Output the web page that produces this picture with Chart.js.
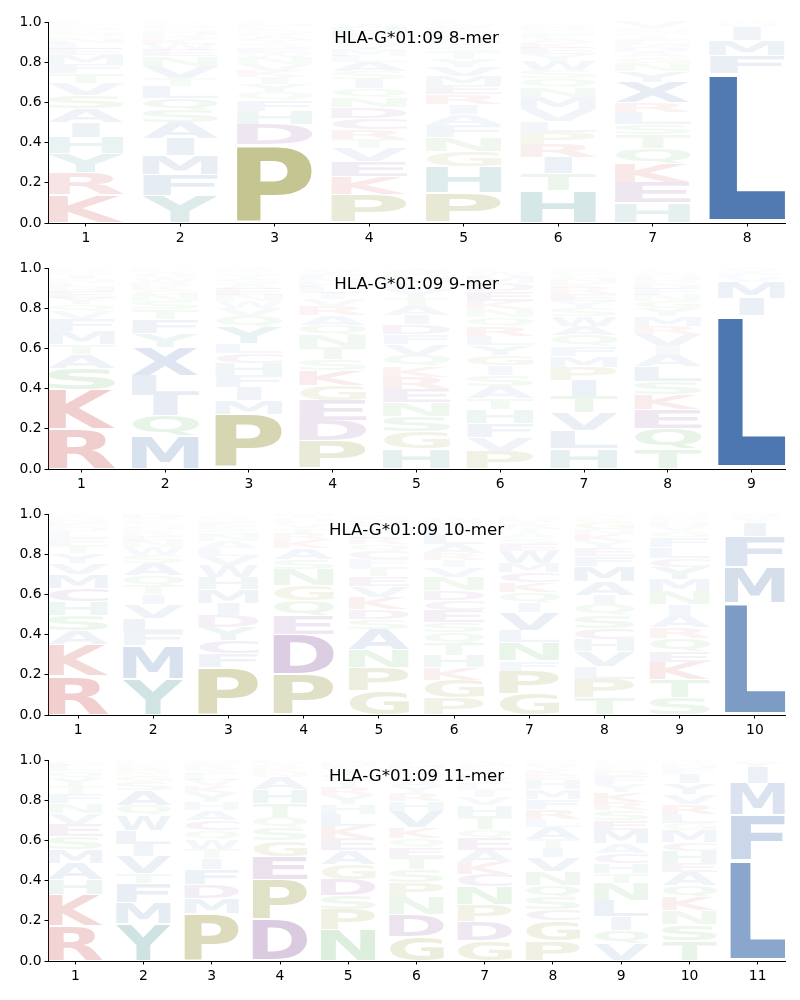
<!DOCTYPE html>
<html>
<head>
<meta charset="utf-8">
<script src="https://cdn.jsdelivr.net/npm/chart.js@4.4.1/dist/chart.umd.min.js"></script>
<style>
  body { margin: 0; background: #fff; }
  #wrap { position: relative; width: 800px; height: 1000px; }
  canvas { position: absolute; left: 0; }
</style>
</head>
<body>
<div id="wrap"></div>
<script>
// Panel titles
const titles = ["HLA-G*01:09 8-mer", "HLA-G*01:09 9-mer", "HLA-G*01:09 10-mer", "HLA-G*01:09 11-mer"];

// Letters per position, stacked bottom -> top, with their heights
const letters8 = [
  "KRYHIASVTFMELNQGDPC", "YFMIASQLTVNEWKRHGDP", "PDHFQYIKVNWESTARGLMC", "PKEVTRCDNQISALMYGFHW",
  "PHGNFAIREMVYTSQLDKWC", "HTIRPLVMNQSWYEKAFGDC", "HEKQTSLRXYNGADMFIPWCV", "LFMIVW"
];
const heights8 = [
  [.14, .11, .095, .08, .075, .07, .065, .06, .05, .045, .045, .03, .03, .025, .02, .02, .015, .015, .01],
  [.135, .105, .095, .085, .08, .06, .06, .06, .04, .06, .05, .03, .03, .025, .02, .02, .015, .015, .015],
  [.39, .1, .065, .055, .04, .04, .035, .03, .035, .03, .025, .025, .02, .02, .02, .015, .015, .015, .015, .01],
  [.14, .09, .075, .065, .045, .05, .055, .055, .05, .045, .045, .04, .045, .03, .03, .025, .025, .03, .03, .02],
  [.15, .13, .075, .07, .06, .055, .05, .05, .045, .045, .045, .04, .035, .03, .03, .025, .02, .02, .015, .01],
  [.16, .085, .08, .065, .06, .055, .06, .06, .05, .045, .04, .045, .035, .03, .025, .025, .02, .02, .015, .015],
  [.1, .1, .095, .075, .07, .05, .06, .05, .1, .055, .04, .03, .025, .025, .02, .02, .015, .015, .01, .015, .03],
  [.745, .09, .075, .065, .015, .01]
];

const letters9 = [
  "RKSATMFVQYEHLNIGDP", "MQILXYFTSNGKRWVAEH", "PMIFHCLYQVWNEASTGKR", "PDEGKSTNQARVILHMFYW",
  "HGSNERKQVFDIATYLMPW", "PVFHTASIGYLRQNKEDMWC", "HLVTIPMFQAWSYERKNGDC", "TQEKSLAIVRMYGNFDPHWC", "LIMVFYW"
];
const heights9 = [
  [.2, .195, .105, .07, .05, .065, .06, .04, .035, .03, .03, .025, .02, .02, .02, .015, .01, .01],
  [.165, .1, .1, .1, .14, .07, .07, .05, .04, .03, .025, .02, .02, .02, .015, .015, .01, .01],
  [.27, .07, .065, .06, .06, .05, .05, .08, .055, .04, .035, .03, .03, .025, .025, .02, .015, .01, .01],
  [.14, .1, .1, .075, .075, .055, .06, .06, .05, .05, .045, .035, .03, .03, .025, .02, .02, .015, .01],
  [.1, .085, .075, .07, .065, .06, .055, .055, .055, .05, .05, .045, .045, .04, .04, .035, .03, .025, .015],
  [.09, .065, .07, .07, .055, .06, .055, .05, .05, .05, .045, .05, .045, .04, .04, .05, .04, .035, .02, .01],
  [.1, .09, .09, .08, .08, .065, .055, .05, .055, .045, .05, .04, .035, .035, .03, .025, .025, .02, .015, .01],
  [.1, .1, .095, .075, .065, .075, .06, .04, .06, .04, .05, .04, .035, .03, .03, .025, .02, .02, .015, .01],
  [.765, .085, .08, .025, .02, .015, .01]
];

const letters10 = [
  "RKASHCMVYTFLQENGI", "YMFLVITQASWNERKHGCPD", "PFCYDIMHWVLANSKEGRT", "PDEQGNSAKRTVLHIM",
  "GPNASDKVETFCQRLIYHMW", "PGKHTQSECDNVIRALMFYW", "GPFNLVIQKCMWESATRYDH", "TPLVHCSQIAMFEYKNGRDW",
  "STKEQRAINMYCLFGVHPDW", "LMFIYVW"
];
const heights10 = [
  [.195, .155, .07, .075, .07, .065, .07, .055, .05, .04, .035, .03, .025, .02, .02, .015, .01],
  [.18, .165, .065, .07, .07, .05, .045, .05, .06, .04, .04, .03, .025, .02, .015, .015, .01, .015, .015, .02],
  [.235, .07, .065, .065, .06, .06, .07, .06, .06, .045, .04, .035, .03, .025, .02, .02, .015, .01, .01],
  [.205, .195, .095, .075, .075, .08, .05, .055, .04, .03, .03, .02, .015, .015, .01, .01],
  [.12, .115, .09, .1, .05, .05, .06, .055, .05, .045, .04, .04, .035, .03, .025, .02, .02, .02, .015, .01],
  [.085, .09, .06, .06, .06, .055, .05, .06, .05, .05, .065, .05, .035, .035, .045, .045, .025, .025, .02, .015],
  [.105, .115, .05, .09, .06, .09, .05, .05, .05, .05, .045, .06, .035, .03, .025, .025, .02, .015, .015, .01],
  [.085, .095, .06, .075, .06, .055, .065, .055, .045, .07, .075, .05, .04, .035, .035, .025, .035, .015, .01, .01],
  [.085, .09, .085, .055, .065, .055, .06, .055, .065, .06, .06, .045, .055, .05, .03, .025, .02, .015, .015, .01],
  [.56, .18, .15, .07, .02, .01, .01]
];

const letters11 = [
  "RKHAMSEVNFTYQLG", "YMFTVILWQASGNRKEH", "PMDFITWQCAHYKVLSREG", "DPEGSQTHANKRVL",
  "NPSDGAEKLHYRTQIFMV", "GDNPSTEQKVHRYAILMFC", "GDPNCKAEQTHVILSRYFMW", "PGCSQNVITALRFMHEKYDW",
  "VQILNTHCAMESRKYFDGPW", "TSNKQAEHCMGLRVYIFDPW", "LFMIYV"
];
const heights11 = [
  [.175, .155, .075, .08, .07, .065, .06, .055, .05, .045, .04, .04, .035, .03, .02],
  [.185, .105, .095, .05, .085, .06, .07, .075, .05, .075, .045, .03, .02, .02, .015, .01, .01],
  [.235, .075, .07, .075, .055, .045, .05, .045, .05, .05, .04, .045, .035, .03, .03, .025, .02, .015, .015],
  [.205, .2, .115, .08, .06, .055, .07, .07, .06, .025, .02, .015, .01, .01],
  [.155, .1, .07, .08, .075, .07, .06, .06, .06, .05, .045, .04, .035, .03, .025, .02, .015, .01],
  [.12, .11, .085, .075, .065, .06, .05, .045, .055, .08, .05, .04, .035, .035, .025, .025, .02, .015, .01],
  [.1, .095, .085, .09, .06, .06, .06, .06, .045, .065, .055, .04, .035, .03, .025, .025, .02, .015, .015, .01],
  [.1, .1, .055, .06, .06, .07, .07, .045, .045, .06, .04, .05, .05, .05, .045, .025, .025, .02, .015, .01],
  [.085, .07, .065, .08, .085, .05, .05, .05, .05, .065, .05, .05, .04, .05, .04, .04, .025, .02, .015, .01],
  [.1, .08, .07, .065, .06, .065, .045, .06, .045, .06, .035, .045, .05, .05, .055, .045, .025, .02, .015, .01],
  [.5, .225, .16, .08, .025, .01]
];

const panels = [
  { title: titles[0], letters: letters8, heights: heights8 },
  { title: titles[1], letters: letters9, heights: heights9 },
  { title: titles[2], letters: letters10, heights: heights10 },
  { title: titles[3], letters: letters11, heights: heights11 }
];

// Base colour of each residue (faded by its height when drawn)
const blue = "76,118,176", red = "200,65,65", olive = "140,140,40",
      purple = "120,60,140", green = "80,170,80", teal = "60,140,140";
const aaColors = {
  A: blue, C: purple, D: purple, E: purple, F: blue, G: olive, H: teal, I: blue,
  K: red, L: blue, M: blue, N: green, P: olive, Q: green, R: red, S: green,
  T: green, V: blue, W: blue, X: blue, Y: teal
};

// Draw each letter stretched into its (invisible) bar
const logoPlugin = {
  id: "logo",
  afterDatasetsDraw(chart) {
    const ctx = chart.ctx;
    ctx.save();
    ctx.font = 'bold 100px "DejaVu Sans"';
    ctx.textAlign = "left";
    ctx.textBaseline = "alphabetic";
    const mE = ctx.measureText("E");
    const wE = mE.actualBoundingBoxLeft + mE.actualBoundingBoxRight;
    chart.data.datasets.forEach((ds, di) => {
      const meta = chart.getDatasetMeta(di);
      const ch = ds.label;
      const m = ctx.measureText(ch);
      const gw = m.actualBoundingBoxLeft + m.actualBoundingBoxRight;
      const gh = m.actualBoundingBoxAscent + m.actualBoundingBoxDescent;
      meta.data.forEach((bar, i) => {
        const raw = ds.data[i];
        const h = raw.y[1] - raw.y[0];
        const p = bar.getProps(["x", "y", "base", "width"], true);
        const boxH = p.base - p.y;
        const top = p.y + boxH * 0.025;
        const sx = Math.min(p.width / gw, p.width / wE);
        const alpha = Math.min(1, h * 1.3);
        ctx.save();
        ctx.translate(p.x - gw * sx / 2, top);
        ctx.scale(sx, boxH * 0.95 / gh);
        ctx.fillStyle = `rgba(${aaColors[ch]},${alpha})`;
        ctx.fillText(ch, m.actualBoundingBoxLeft, m.actualBoundingBoxAscent);
        ctx.restore();
      });
    });
    ctx.restore();
  }
};

// Title sits inside the axes, near the top
const innerTitle = {
  id: "innerTitle",
  afterDraw(chart, args, opts) {
    const { ctx, chartArea } = chart;
    ctx.save();
    ctx.font = '16.7px "DejaVu Sans"';
    ctx.fillStyle = "#000";
    ctx.textAlign = "center";
    ctx.textBaseline = "alphabetic";
    ctx.fillText(opts.text, (chartArea.left + chartArea.right) / 2, chartArea.top + 20.5);
    ctx.restore();
  }
};

const tickFont = { family: "DejaVu Sans", size: 13.9 };
const wrap = document.getElementById("wrap");
const tops = [0, 246, 492, 738];

panels.forEach((panel, pi) => {
  const canvas = document.createElement("canvas");
  canvas.width = 800;
  canvas.height = 246;
  canvas.style.top = tops[pi] + "px";
  wrap.appendChild(canvas);

  const n = panel.letters.length;
  const positions = panel.letters.map((_, i) => i + 1);

  // one dataset per residue, floating bars [bottom, top] at each position
  const byLetter = {};
  panel.letters.forEach((stack, i) => {
    let cum = 0;
    stack.split("").forEach((ch, k) => {
      const h = panel.heights[i][k];
      (byLetter[ch] = byLetter[ch] || []).push({ x: i + 1, y: [cum, cum + h] });
      cum += h;
    });
  });
  const datasets = Object.keys(byLetter).map(ch => ({
    label: ch,
    data: byLetter[ch],
    backgroundColor: "rgba(0,0,0,0)",
    borderWidth: 0,
    grouped: false,
    barPercentage: 0.8,
    categoryPercentage: 1
  }));

  new Chart(canvas, {
    type: "bar",
    data: { datasets: datasets },
    plugins: [logoPlugin, innerTitle],
    options: {
      responsive: false,
      animation: false,
      devicePixelRatio: 1,
      layout: { padding: { top: 22, right: 15, left: 0, bottom: 0 } },
      plugins: {
        legend: { display: false },
        tooltip: { enabled: false },
        innerTitle: { text: panel.title }
      },
      scales: {
        x: {
          type: "linear",
          offset: false,
          min: 0.6,
          max: n + 0.4,
          afterBuildTicks: s => { s.ticks = positions.map(v => ({ value: v })); },
          afterFit: s => { s.height = 23; },
          grid: { offset: false, drawOnChartArea: false, tickLength: 3.5, color: "#000", lineWidth: 1 },
          border: { color: "#000", width: 1 },
          ticks: { color: "#000", font: tickFont, padding: 4, maxRotation: 0, autoSkip: false }
        },
        y: {
          min: 0,
          max: 1,
          afterFit: s => { s.width = 48; },
          grid: { drawOnChartArea: false, tickLength: 3.5, color: "#000", lineWidth: 1 },
          border: { color: "#000", width: 1 },
          ticks: { stepSize: 0.2, color: "#000", font: tickFont, padding: 3, callback: v => v.toFixed(1) }
        }
      }
    }
  });
});
</script>
</body>
</html>
